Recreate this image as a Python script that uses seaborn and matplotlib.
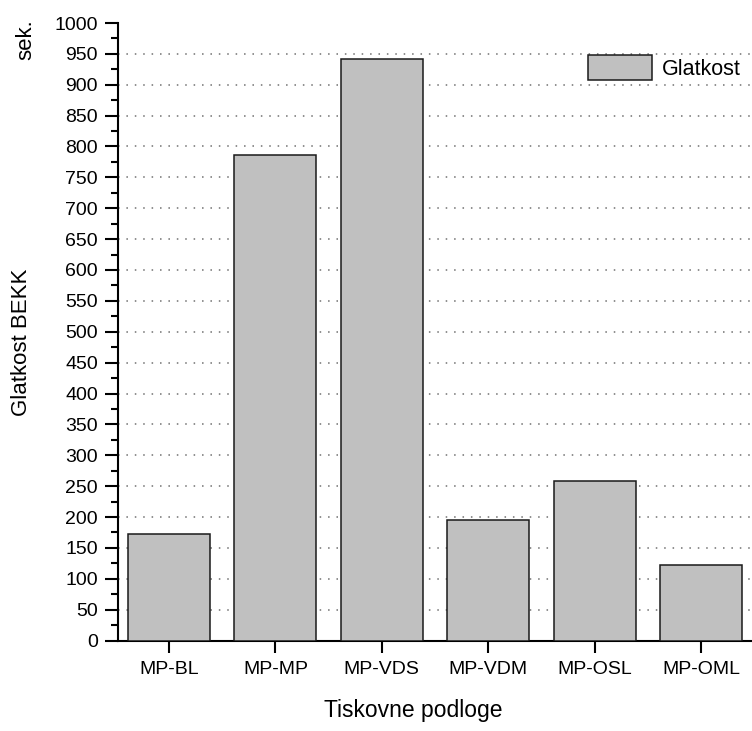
import matplotlib
matplotlib.use("Agg")
import matplotlib.pyplot as plt
import seaborn as sns
import numpy as np
from matplotlib.ticker import MultipleLocator

categories = ["MP-BL", "MP-MP", "MP-VDS", "MP-VDM", "MP-OSL", "MP-OML"]
values = [172, 786, 942, 195, 258, 122]
series_name = "Glatkost"
x_label = "Tiskovne podloge"
y_label = "Glatkost BEKK"
unit_label = "sek."

sns.set_theme(style="ticks")
plt.rcParams['font.family'] = ['Liberation Sans', 'DejaVu Sans']

W, H = 752, 731
fig = plt.figure(figsize=(W / 100, H / 100), dpi=100)
ax = fig.add_axes([118 / W, 1 - 640.5 / H, (W - 118) / W, (640.5 - 23) / H])

sns.barplot(x=categories, y=values, color="#c0c0c0", edgecolor="#1a1a1a",
            linewidth=1.1, width=0.77, saturation=1, label=series_name, ax=ax, zorder=3)

ax.set_xlim(-0.48, 5.48)
ax.set_ylim(0, 1000)
ax.yaxis.set_major_locator(MultipleLocator(50))
ax.yaxis.set_minor_locator(MultipleLocator(25))

ax.set_axisbelow(True)
ax.yaxis.grid(True, linestyle=(0, (1, 4.5)), color="#707070", linewidth=1.1)
gls = ax.yaxis.get_gridlines()
for gl, t in zip(gls, ax.get_yticks()):
    if t <= 0 or t >= 1000:
        gl.set_visible(False)

for s in ["top", "right"]:
    ax.spines[s].set_visible(False)
for s in ["left", "bottom"]:
    ax.spines[s].set_linewidth(1.5)
    ax.spines[s].set_color("black")

ax.tick_params(axis="y", which="major", direction="out", length=9.4, width=1.5,
               labelsize=14, pad=5, colors="black")
ax.tick_params(axis="y", which="minor", direction="out", length=5, width=1.5, colors="black")
ax.tick_params(axis="x", which="major", direction="out", length=8.6, width=1.5,
               labelsize=14, pad=6, colors="black")

ax.set_xlabel(x_label, fontsize=16.5, labelpad=14, color="black")
ax.xaxis.set_label_coords(0.465, -0.095)
ax.xaxis.label.set_va("top")
ax.set_ylabel(y_label, fontsize=16, color="black")
ax.yaxis.set_label_coords(-0.136, 0.483)

fig.text(26 / W, 1 - 40 / H, unit_label, rotation=90, ha="center", va="center",
         fontsize=16, color="black")

leg = ax.legend(loc="upper right", bbox_to_anchor=(741 / W, 1 - 55 / H),
                bbox_transform=fig.transFigure, frameon=False, fontsize=15.5,
                handlelength=3.0, handleheight=1.42, handletextpad=0.45,
                borderpad=0, borderaxespad=0)
for t in leg.get_texts():
    t.set_color("black")

fig.savefig("out.png", dpi=100)
